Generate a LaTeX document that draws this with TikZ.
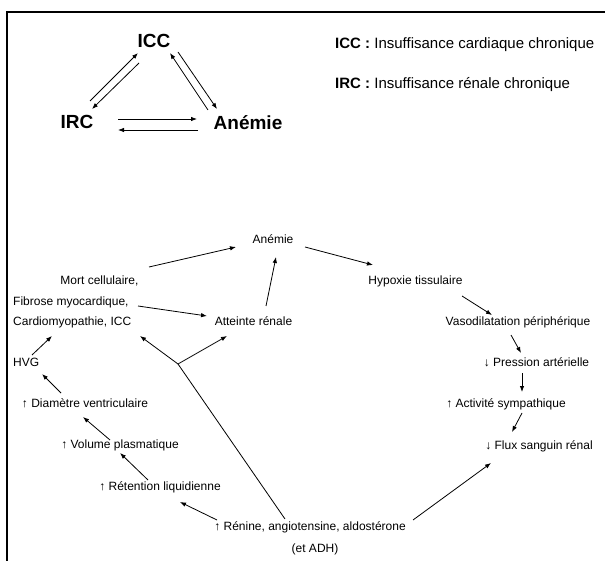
\documentclass[tikz,border=0pt]{standalone}
\usepackage{fontspec}
\setmainfont{Liberation Sans}
\usetikzlibrary{arrows.meta}

\begin{document}
\begin{tikzpicture}[x=1pt, y=-1pt,
  big/.style = {font=\fontsize{19}{22}\selectfont\bfseries, inner sep=0pt},
  lgd/.style = {font=\fontsize{15}{18}\selectfont, inner sep=0pt, anchor=base west},
  lbl/.style = {font=\fontsize{12}{14}\selectfont, inner sep=0pt, anchor=mid},
  arr/.style = {-{Latex[length=6pt,width=4.5pt]}, line width=0.8pt}]
	\useasboundingbox (0,0) rectangle (605,561);
	\draw[line width=1.6pt] (605,12) -- (7,12) -- (7,561);
	\node[big] (ICC) at (154,41){ICC};
	\node[big] (IRC) at (77,122){IRC};
	\node[big] (anemie) at (248,123){Anémie};
	\node[lgd] (defICC) at (335,48.5){\textbf{ICC :} Insuffisance cardiaque chronique};
	\node[lgd] (defIRC) at (335,88.5){\textbf{IRC :} Insuffisance rénale chronique};
	\draw[arr] ([shift={(13,-21)}]IRC.center) -- ([shift={(-16,12)}]ICC.center);
	\draw[arr] ([shift={(-15,22)}]ICC.center) -- ([shift={(15,-13)}]IRC.center);
	\draw[arr] ([shift={(-40,-13)}]anemie.center) -- ([shift={(16,12)}]ICC.center);
	\draw[arr] ([shift={(24,11)}]ICC.center) -- ([shift={(-31,-14)}]anemie.center);
	\draw[arr] ([shift={(41,-3)}]IRC.center) -- ([shift={(-51,-4)}]anemie.center);
	\draw[arr] ([shift={(-50,7)}]anemie.center) -- ([shift={(41,8)}]IRC.center);

	\node[lbl] (an) at (273,241){Anémie};
	\node[lbl] (mort) at (99.5,282){Mort cellulaire,};
	\node[lbl, anchor=mid west] (fibrose) at (13,303){Fibrose myocardique,};
	\node[lbl, anchor=mid west] (cardio) at (13,323){Cardiomyopathie, ICC};
	\node[lbl] (att) at (253.5,323){Atteinte rénale};
	\node[lbl] (hyp) at (415.5,282){Hypoxie tissulaire};
	\node[lbl] (vaso) at (518,323){Vasodilatation périphérique};
	\node[lbl] (pres) at (536.5,364){↓ Pression artérielle};
	\node[lbl] (act) at (506,405){↑ Activité sympathique};
	\node[lbl] (flux) at (539,447){↓ Flux sanguin rénal};
	\node[lbl, anchor=mid west] (hvg) at (13,364){HVG};
	\node[lbl] (diam) at (85,405){↑ Diamètre ventriculaire};
	\node[lbl] (vol) at (120,446){↑ Volume plasmatique};
	\node[lbl] (ret) at (160,488){↑ Rétention liquidienne};
	\node[lbl] (ren) at (310,528){↑ Rénine, angiotensine, aldostérone};
	\node[lbl] (adh) at (315,550){(et ADH)};
	\coordinate (branch) at (178,364);

	\draw[arr] ([shift={(49.5,-15)}]mort.mid) -- ([shift={(-37,6)}]an.mid);
	\draw[arr] ([shift={(125,3)}]fibrose.mid west) -- ([shift={(-46.5,-7)}]att.mid);
	\draw[arr] ([shift={(12.5,-17)}]att.mid) -- ([shift={(3,16)}]an.mid);
	\draw[arr] ([shift={(32,6)}]an.mid) -- ([shift={(-42.5,-17)}]hyp.mid);
	\draw[arr] ([shift={(46.5,14)}]hyp.mid) -- ([shift={(-26,-8)}]vaso.mid);
	\draw[arr] ([shift={(-7,12)}]vaso.mid) -- ([shift={(-15.5,-11)}]pres.mid);
	\draw[arr] ([shift={(-14.5,9)}]pres.mid) -- ([shift={(16,-13)}]act.mid);
	\draw[arr] ([shift={(16,8)}]act.mid) -- ([shift={(-27,-15)}]flux.mid);
	\draw[arr] ([shift={(103,-8)}]ren.mid) -- ([shift={(-48,16)}]flux.mid);
	\draw[arr] ([shift={(-93,-8)}]ren.mid) -- ([shift={(20,14)}]ret.mid);
	\draw[arr] ([shift={(-12,-8)}]ret.mid) -- ([shift={(0,7)}]vol.mid);
	\draw[arr] ([shift={(-10,-6)}]vol.mid) -- ([shift={(-2,12)}]diam.mid);
	\draw[arr] ([shift={(-24,-12)}]diam.mid) -- ([shift={(29,10)}]hvg.mid west);
	\draw[arr] ([shift={(19,-9)}]hvg.mid west) -- ([shift={(39,13)}]cardio.mid west);
	\draw[line width=0.8pt] ([shift={(-25,-9)}]ren.mid) -- (branch);
	\draw[arr] (branch) -- ([shift={(127,13)}]cardio.mid west);
	\draw[arr] (branch) -- ([shift={(-26.5,13)}]att.mid);
\end{tikzpicture}
\end{document}
